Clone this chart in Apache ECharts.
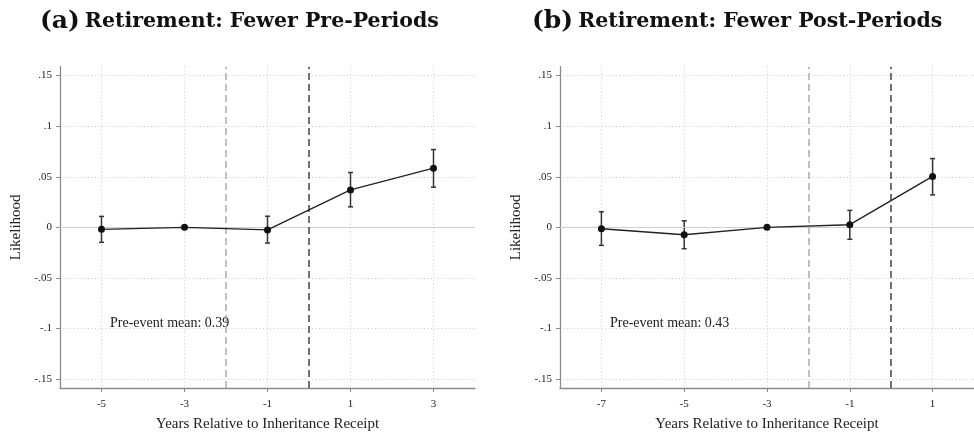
<!DOCTYPE html>
<html>
<head>
<meta charset="utf-8">
<script src="https://cdn.jsdelivr.net/npm/echarts@6/dist/echarts.min.js"></script>
<style>html,body{margin:0;padding:0;background:#fff}#c{width:974px;height:437px}</style>
</head>
<body>
<div id="c"></div>
<script>
// ---- data ----
const yearsA = [-5, -3, -1, 1, 3];
const coefA  = [-0.002, 0, -0.0025, 0.037, 0.0585];
const lowA   = [-0.0148, null, -0.0155, 0.0203, 0.0397];
const highA  = [0.0108, null, 0.011, 0.0542, 0.0769];

const yearsB = [-7, -5, -3, -1, 1];
const coefB  = [-0.0014, -0.0073, 0, 0.0026, 0.0503];
const lowB   = [-0.0178, -0.0211, null, -0.0118, 0.0321];
const highB  = [0.0154, 0.0065, null, 0.0168, 0.068];

const yTicks = [-0.15, -0.1, -0.05, 0, 0.05, 0.1, 0.15];
const yTickLabels = ['-.15', '-.1', '-.05', '0', '.05', '.1', '.15'];
const xTicksA = [-5, -3, -1, 1, 3];
const xTicksB = [-7, -5, -3, -1, 1];
const titleA = 'Retirement: Fewer Pre-Periods';
const titleB = 'Retirement: Fewer Post-Periods';
const meanA = 'Pre-event mean: 0.39';
const meanB = 'Pre-event mean: 0.43';
const xName = 'Years Relative to Inheritance Receipt';
const yName = 'Likelihood';

// ---- chart ----
const serif = '"Liberation Serif", "Times New Roman", serif';
const chart = echarts.init(document.getElementById('c'));

function yLabel(v) {
  for (let i = 0; i < yTicks.length; i++) if (Math.abs(yTicks[i] - v) < 1e-9) return yTickLabels[i];
  return '';
}

function xAxisCfg(idx, min, max, ticks) {
  return {
    type: 'value', gridIndex: idx, min: min, max: max,
    name: xName, nameLocation: 'middle', nameGap: 29,
    nameTextStyle: { fontFamily: serif, fontSize: 15, color: '#222' },
    axisLine: { show: true, onZero: false, lineStyle: { color: '#8a8a8a', width: 1.3 } },
    axisTick: { show: true, customValues: ticks, length: 4, lineStyle: { color: '#8a8a8a' } },
    axisLabel: { customValues: ticks, fontFamily: serif, fontSize: 11, color: '#222', margin: 11 },
    splitLine: { show: true, lineStyle: { color: '#cccccc', type: [1, 2.5], width: 1 } }
  };
}
function yAxisCfg(idx) {
  return {
    type: 'value', gridIndex: idx, min: -0.1588, max: 0.1588,
    name: yName, nameLocation: 'middle', nameGap: 36,
    nameTextStyle: { fontFamily: serif, fontSize: 15, color: '#222' },
    axisLine: { show: true, onZero: false, lineStyle: { color: '#8a8a8a', width: 1.3 } },
    axisTick: { show: true, customValues: yTicks, length: 4, lineStyle: { color: '#8a8a8a' } },
    axisLabel: { customValues: yTicks, formatter: yLabel, fontFamily: serif, fontSize: 11, color: '#222', margin: 8 },
    splitLine: { show: true, lineStyle: { color: '#cccccc', type: [1, 2.5], width: 1 } }
  };
}

function errRender(params, api) {
  const x = api.value(0), lo = api.value(1), hi = api.value(2);
  if (isNaN(lo) || isNaN(hi)) return null;
  const p1 = api.coord([x, hi]), p2 = api.coord([x, lo]);
  const w = 2.5;
  const st = { stroke: '#333', lineWidth: 1.5 };
  return { type: 'group', children: [
    { type: 'line', shape: { x1: p1[0], y1: p1[1], x2: p2[0], y2: p2[1] }, style: st },
    { type: 'line', shape: { x1: p1[0] - w, y1: p1[1], x2: p1[0] + w, y2: p1[1] }, style: st },
    { type: 'line', shape: { x1: p2[0] - w, y1: p2[1], x2: p2[0] + w, y2: p2[1] }, style: st }
  ]};
}

function seriesFor(idx, years, coef, low, high) {
  const errData = [];
  years.forEach((y, i) => { if (low[i] !== null) errData.push([y, low[i], high[i]]); });
  return [
    {
      type: 'line', xAxisIndex: idx, yAxisIndex: idx, z: 5,
      data: years.map((y, i) => [y, coef[i]]),
      symbol: 'circle', symbolSize: 7,
      itemStyle: { color: '#111' },
      lineStyle: { color: '#222', width: 1.4 },
      markLine: {
        silent: true, symbol: 'none', label: { show: false }, animation: false,
        data: [
          { yAxis: 0, lineStyle: { color: '#cfcfcf', type: 'solid', width: 1.2 } },
          { xAxis: -2, lineStyle: { color: '#aaaaaa', type: [7, 4], width: 1.5 } },
          { xAxis: 0, lineStyle: { color: '#444444', type: [7, 4], width: 1.5 } }
        ]
      }
    },
    {
      type: 'custom', xAxisIndex: idx, yAxisIndex: idx, z: 4,
      data: errData, encode: { x: 0, y: [1, 2] }, renderItem: errRender
    }
  ];
}

const titleRich = {
  p: { fontFamily: '"DejaVu Serif", serif', fontWeight: 'bold', fontSize: 25, color: '#111' },
  t: { fontFamily: '"DejaVu Serif", serif', fontWeight: 'bold', fontSize: 20.5, color: '#111' }
};

chart.setOption({
  animation: false,
  title: [
    { left: 35, top: 4, text: '{p|(a)} {t|' + titleA + '}', textStyle: { rich: titleRich } },
    { left: 527, top: 4, text: '{p|(b)} {t|' + titleB + '}', textStyle: { rich: titleRich } }
  ],
  grid: [
    { left: 60, top: 66.7, width: 415, height: 322 },
    { left: 560, top: 66.7, width: 414, height: 322 }
  ],
  xAxis: [xAxisCfg(0, -6, 4, xTicksA), xAxisCfg(1, -8, 2, xTicksB)],
  yAxis: [yAxisCfg(0), yAxisCfg(1)],
  graphic: [
    { type: 'text', left: 110, top: 316, style: { text: meanA, font: '14px ' + serif, fill: '#222' } },
    { type: 'text', left: 610, top: 316, style: { text: meanB, font: '14px ' + serif, fill: '#222' } }
  ],
  series: [].concat(seriesFor(0, yearsA, coefA, lowA, highA), seriesFor(1, yearsB, coefB, lowB, highB))
});
</script>
</body>
</html>
